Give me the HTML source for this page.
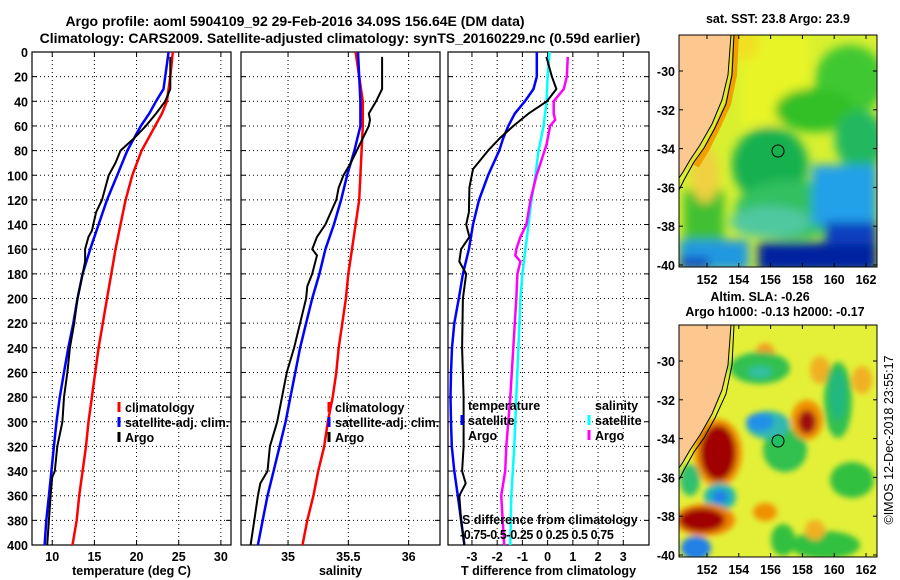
<!DOCTYPE html>
<html><head><meta charset="utf-8"><style>
body{margin:0;background:#fff}
svg{display:block;font-family:"Liberation Sans",Arial,sans-serif;font-weight:bold}
text{font-size:12.5px;fill:#000}
</style></head><body>
<svg id="fig" width="900" height="580" viewBox="0 0 900 580">
<defs>
<filter id="bl" x="-20%" y="-20%" width="140%" height="140%"><feGaussianBlur stdDeviation="5"/></filter>
<filter id="bl2" x="-20%" y="-20%" width="140%" height="140%"><feGaussianBlur stdDeviation="3"/></filter>
<clipPath id="cm1"><rect x="679" y="35" width="198" height="232"/></clipPath>
<clipPath id="cm2"><rect x="679" y="325" width="198" height="232"/></clipPath>
</defs>
<text x="295" y="26" text-anchor="middle" style="font-size:14px">Argo profile: aoml 5904109_92 29-Feb-2016 34.09S 156.64E (DM data)</text>
<text x="340" y="43" text-anchor="middle" style="font-size:14px">Climatology: CARS2009. Satellite-adjusted climatology: synTS_20160229.nc (0.59d earlier)</text>

<g id="maps">
<text x="778" y="23" text-anchor="middle">sat. SST: 23.8 Argo: 23.9</text>
<g clip-path="url(#cm1)">
<rect x="679" y="35" width="198" height="232" fill="#d8f030"/>
<g filter="url(#bl)">
<rect x="740" y="35" width="70" height="90" fill="#e8f428"/>
<ellipse cx="745" cy="45" rx="15" ry="15" fill="#f0e020"/>
<ellipse cx="850" cy="80" rx="35" ry="35" fill="#40c830"/>
<ellipse cx="815" cy="110" rx="40" ry="22" fill="#30c028"/>
<ellipse cx="860" cy="140" rx="25" ry="30" fill="#20b860"/>
<ellipse cx="770" cy="165" rx="38" ry="38" fill="#18b050"/>
<ellipse cx="790" cy="210" rx="55" ry="30" fill="#30c060"/>
<rect x="812" y="165" width="65" height="60" fill="#20a0e8"/>
<ellipse cx="770" cy="222" rx="40" ry="16" fill="#50c8a0"/>
<rect x="684" y="190" width="40" height="50" fill="#40c030"/>
<rect x="679" y="240" width="70" height="30" fill="#2098e0"/>
<rect x="758" y="242" width="119" height="30" fill="#0020a0"/>
<rect x="825" y="222" width="52" height="22" fill="#0840c0"/>
<ellipse cx="705" cy="175" rx="14" ry="28" fill="#f0d040"/>
<rect x="679" y="258" width="30" height="10" fill="#1030c0"/>
</g>
<polyline points="736,35 734,75 728,104 717,128 706,150 696,166" fill="none" stroke="#f0a000" stroke-width="6"/>
<polygon points="679,35 731,35 728,75 722,100 712,124 700,145 690,160 683,172 679,178" fill="#fcc890" stroke="#000" stroke-width="1"/>
<polyline points="734,35 732,75 726,104 715,128 704,148 694,162 684,180 679,190" fill="none" stroke="#000" stroke-width="1"/>
<circle cx="778" cy="151" r="6" fill="none" stroke="#000" stroke-width="1"/>
</g>
<rect x="679" y="35" width="198" height="232" fill="none" stroke="#000"/>

<text x="760" y="301" text-anchor="middle">Altim. SLA: -0.26</text>
<text x="775" y="316" text-anchor="middle">Argo h1000: -0.13 h2000: -0.17</text>
<g clip-path="url(#cm2)">
<rect x="679" y="325" width="198" height="232" fill="#e4f038"/>
<g filter="url(#bl2)">
<ellipse cx="765" cy="355" rx="10" ry="12" fill="#f0a020"/>
<ellipse cx="820" cy="370" rx="10" ry="14" fill="#f0b020"/>
<ellipse cx="862" cy="380" rx="10" ry="14" fill="#f0b020"/>
<ellipse cx="760" cy="368" rx="30" ry="16" fill="#30c050"/>
<ellipse cx="760" cy="372" rx="12" ry="6" fill="#30c0a0"/>
<ellipse cx="838" cy="400" rx="14" ry="38" fill="#30c050"/>
<ellipse cx="838" cy="395" rx="8" ry="25" fill="#20b880"/>
<ellipse cx="852" cy="480" rx="22" ry="18" fill="#30c040"/>
<ellipse cx="825" cy="545" rx="35" ry="14" fill="#30c040"/>
<ellipse cx="783" cy="540" rx="12" ry="16" fill="#30c040"/>
<ellipse cx="785" cy="450" rx="22" ry="22" fill="#30c050"/>
<ellipse cx="768" cy="425" rx="22" ry="14" fill="#30b8b0"/>
<ellipse cx="760" cy="422" rx="14" ry="9" fill="#2090e8"/>
<ellipse cx="718" cy="453" rx="24" ry="34" fill="#f09000"/>
<ellipse cx="718" cy="453" rx="18" ry="28" fill="#a00000"/>
<ellipse cx="720" cy="497" rx="16" ry="14" fill="#20b8b0"/>
<ellipse cx="720" cy="497" rx="8" ry="7" fill="#2080e8"/>
<ellipse cx="705" cy="520" rx="30" ry="16" fill="#f08000"/>
<ellipse cx="702" cy="520" rx="23" ry="12" fill="#a00000"/>
<ellipse cx="807" cy="420" rx="16" ry="20" fill="#f09000"/>
<ellipse cx="807" cy="422" rx="9" ry="12" fill="#a01010"/>
<ellipse cx="765" cy="512" rx="12" ry="9" fill="#f09000"/>
<ellipse cx="815" cy="530" rx="10" ry="10" fill="#f0b020"/>
<ellipse cx="696" cy="548" rx="15" ry="12" fill="#2080e8"/>
<ellipse cx="690" cy="480" rx="10" ry="16" fill="#30c070"/>
</g>
<polygon points="679,325 731,325 728,365 722,390 712,414 700,435 690,450 683,462 679,468" fill="#fcc890" stroke="#000" stroke-width="1"/>
<polyline points="734,325 732,365 726,394 715,418 704,438 694,452 684,470 679,480" fill="none" stroke="#000" stroke-width="1"/>
<circle cx="778" cy="441" r="6" fill="#20c060" stroke="#000" stroke-width="1"/>
</g>
<rect x="679" y="325" width="198" height="232" fill="none" stroke="#000"/>
<text transform="translate(893,440) rotate(-90)" text-anchor="middle" style="font-weight:normal">©IMOS 12-Dec-2018 23:55:17</text>
</g>
<g id="plots"></g>
</svg>
<script>
// Temperature panel data
const tClimDepth=[0,20,40,50,60,70,80,100,120,140,160,180,200,220,240,260,280,300,320,340,360,380,400];
const tClim=[24.3,24.0,23.6,23.0,22.2,21.4,20.6,19.5,18.7,18.1,17.5,17.0,16.5,16.0,15.5,15.1,14.7,14.3,14.0,13.6,13.2,12.9,12.4];
const tSatDepth=[0,20,30,40,50,60,70,80,100,120,140,160,180,200,220,240,260,280,300,320,340,360,380,400];
const tSat=[23.8,23.4,23.2,22.3,21.5,20.5,19.7,18.9,17.7,16.5,15.5,14.5,13.6,13.0,12.5,11.9,11.4,10.9,10.5,10.2,9.9,9.6,9.3,9.1];
const tArgoDepth=[4,30,40,50,60,70,80,90,100,120,130,145,150,160,170,180,200,220,240,260,280,300,320,340,345,360,380,400];
const tArgo=[24.0,24.0,23.4,22.3,21.1,19.7,18.1,17.5,16.7,15.9,15.2,14.7,14.3,13.9,13.9,13.6,13.0,12.6,12.1,11.8,11.4,11.2,10.6,10.3,10.0,9.8,9.6,9.4];
// Salinity panel data
const sClimDepth=[0,20,40,60,80,100,120,140,160,180,200,220,240,260,280,300,320,340,360,380,400];
const sClim=[35.56,35.59,35.62,35.62,35.61,35.6,35.59,35.56,35.53,35.5,35.48,35.45,35.42,35.4,35.37,35.33,35.3,35.25,35.21,35.16,35.12];
const sSatDepth=[0,20,40,60,80,100,120,140,160,180,200,220,240,260,280,300,320,340,360,380,400];
const sSat=[35.58,35.59,35.6,35.6,35.55,35.49,35.44,35.38,35.31,35.26,35.2,35.15,35.1,35.06,35.02,34.98,34.93,34.88,34.83,34.79,34.75];
const sArgoDepth=[4,30,40,50,55,60,70,80,90,100,110,120,140,150,160,165,180,190,200,220,240,260,280,300,320,340,350,360,380,400];
const sArgo=[35.78,35.78,35.73,35.67,35.68,35.67,35.62,35.57,35.52,35.46,35.42,35.4,35.31,35.24,35.2,35.24,35.2,35.16,35.15,35.1,35.05,34.99,34.95,34.91,34.85,34.83,34.77,34.75,34.72,34.69];
// Difference panel data (T in deg C, S in psu)
const dTSatDepth=[0,20,30,40,50,60,70,80,100,120,140,160,180,200,220,240,260,280,300,320,340,360,380,400];
const dTSat=[-0.43,-0.43,-0.56,-0.9,-1.3,-1.56,-1.76,-1.92,-2.36,-2.72,-2.96,-3.12,-3.36,-3.52,-3.7,-3.79,-3.83,-3.85,-3.83,-3.8,-3.7,-3.56,-3.43,-3.3];
const dTArgoDepth=[4,20,30,40,50,60,70,80,95,110,130,140,150,160,170,180,200,240,280,320,340,350,360,380,400];
const dTArgo=[-0.05,0.17,0.35,-0.03,-0.76,-1.36,-1.9,-2.36,-2.96,-3.1,-3.12,-3.23,-3.1,-3.43,-3.5,-3.23,-3.36,-3.39,-3.33,-3.33,-3.39,-3.25,-3.5,-3.43,-3.3];
const dSSatDepth=[0,20,40,60,80,100,120,140,160,180,200,240,280,320,360,400];
const dSSat=[0.02,0,-0.01,-0.04,-0.09,-0.12,-0.16,-0.19,-0.22,-0.25,-0.27,-0.29,-0.31,-0.33,-0.36,-0.37];
const dSArgoDepth=[4,20,30,40,50,55,60,75,90,100,120,140,150,160,165,170,180,200,240,280,320,340,360,400];
const dSArgo=[0.2,0.19,0.16,0.06,0.06,0.075,0.025,-0.01,-0.07,-0.11,-0.17,-0.21,-0.27,-0.31,-0.32,-0.27,-0.3,-0.31,-0.34,-0.37,-0.41,-0.42,-0.46,-0.43];
// Tick labels
const depthTicks=[0,20,40,60,80,100,120,140,160,180,200,220,240,260,280,300,320,340,360,380,400];
const tTicks=[10,15,20,25,30];
const sTicks=[35,35.5,36];
const dTicks=[-3,-2,-1,0,1,2,3];
const latTicks=[-30,-32,-34,-36,-38,-40];
const lonTicks=[152,154,156,158,160,162];
const sScale=4; // salinity diff drawn in T units (x4)

const NS='http://www.w3.org/2000/svg';
const root=document.getElementById('plots');
function mk(tag,attrs,parent){const e=document.createElementNS(NS,tag);for(const k in attrs)e.setAttribute(k,attrs[k]);(parent||root).appendChild(e);return e;}
const Y0=52,Y1=545;
function yD(d){return Y0+(d/400)*(Y1-Y0);}
function axis(x0,x1,v0,v1){return v=>x0+(v-v0)/(v1-v0)*(x1-x0);}
function panel(name,x0,x1,v0,v1,ticks,fmt,label,showDepth){
  const g=mk('g',{});
  
  
  const fx=axis(x0,x1,v0,v1);
  depthTicks.forEach(d=>{
    if(d>0&&d<400){const l=mk('line',{x1:x0,x2:x1,y1:yD(d),y2:yD(d),stroke:'#000','stroke-dasharray':'1,3','stroke-width':1},g);
    }
    mk('line',{x1:x0,x2:x0+5,y1:yD(d),y2:yD(d),stroke:'#000'},g);
    mk('line',{x1:x1-5,x2:x1,y1:yD(d),y2:yD(d),stroke:'#000'},g);
    if(showDepth){const t=mk('text',{x:x0-4,y:yD(d)+5,'text-anchor':'end'},g);t.textContent=d;
      }
  });
  ticks.forEach(v=>{
    const X=fx(v);
    const l=mk('line',{x1:X,x2:X,y1:Y0,y2:Y1,stroke:'#000','stroke-dasharray':'1,3'},g);
    
    mk('line',{x1:X,x2:X,y1:Y0,y2:Y0+5,stroke:'#000'},g);
    mk('line',{x1:X,x2:X,y1:Y1-5,y2:Y1,stroke:'#000'},g);
    const t=mk('text',{x:X,y:Y1+16,'text-anchor':'middle'},g);t.textContent=fmt(v);
    
  });
  const fr=mk('rect',{x:x0,y:Y0,width:x1-x0,height:Y1-Y0,fill:'none',stroke:'#000','stroke-width':1.2},g);
  
  const xl=mk('text',{x:(x0+x1)/2,y:575,'text-anchor':'middle'},g);xl.textContent=label;
  
  return {g,fx};
}
function series(p,depths,vals,color,w,name,scale){
  const pts=depths.map((d,i)=>p.fx(vals[i]*(scale||1)).toFixed(1)+','+yD(d).toFixed(1)).join(' ');
  const pl=mk('polyline',{points:pts,fill:'none',stroke:color,'stroke-width':w,'stroke-linejoin':'round'},p.g);
  
  
}
function legend(p,x,y,items){
  items.forEach((it,i)=>{
    if(it.c){const m=mk('line',{x1:x-6,x2:x-6,y1:y+i*15-10,y2:y+i*15,stroke:it.c,'stroke-width':3},p.g);
      }
    const t=mk('text',{x:x,y:y+i*15},p.g);t.textContent=it.t;
    
  });
}
const p1=panel('temperature-panel',32,231,7.6,31.2,tTicks,v=>v,'temperature (deg C)',true);
series(p1,tClimDepth,tClim,'#f00',2.5,'temp-climatology-line');
series(p1,tSatDepth,tSat,'#00f',2.5,'temp-satellite-line');
series(p1,tArgoDepth,tArgo,'#000',2,'temp-argo-line');
legend(p1,125,412,[{t:'climatology',c:'#f00'},{t:'satellite-adj. clim.',c:'#00f'},{t:'Argo',c:'#000'}]);

const p2=panel('salinity-panel',241,440,34.61,36.26,sTicks,v=>v,'salinity',false);
series(p2,sClimDepth,sClim,'#f00',2.5,'sal-climatology-line');
series(p2,sSatDepth,sSat,'#00f',2.5,'sal-satellite-line');
series(p2,sArgoDepth,sArgo,'#000',2,'sal-argo-line');
legend(p2,335,412,[{t:'climatology',c:'#f00'},{t:'satellite-adj. clim.',c:'#00f'},{t:'Argo',c:'#000'}]);

const p3=panel('difference-panel',448,649,-3.95,4.02,dTicks,v=>v,'T difference from climatology',false);
series(p3,dSSatDepth,dSSat,'#0ff',2.5,'sal-diff-satellite-line',sScale);
series(p3,dSArgoDepth,dSArgo,'#f0f',2.5,'sal-diff-argo-line',sScale);
series(p3,dTSatDepth,dTSat,'#00f',2.5,'temp-diff-satellite-line');
series(p3,dTArgoDepth,dTArgo,'#000',2,'temp-diff-argo-line');
legend(p3,468,410,[{t:'temperature'},{t:'satellite',c:'#00f'},{t:'Argo'}]);
legend(p3,595,410,[{t:'salinity'},{t:'satellite',c:'#0ff'},{t:'Argo',c:'#f0f'}]);
const sd=mk('text',{x:462,y:524},p3.g);sd.textContent='S difference from climatology';

const sn=mk('text',{x:460,y:539,style:'letter-spacing:-0.4px'},p3.g);sn.textContent='-0.75-0.5-0.25  0   0.25 0.5 0.75';


// map axes
const mg=document.getElementById('maps');
function mapAxes(top,bot,latTop,lat30,lat40,lonY){
  const fy=axis(lat30,lat40,-30,-40), fxm=axis(707,866,152,162);
  latTicks.forEach(v=>{
    const Y=fy(v);
    mk('line',{x1:679,x2:683,y1:Y,y2:Y,stroke:'#000'},mg);
    mk('line',{x1:873,x2:877,y1:Y,y2:Y,stroke:'#000'},mg);
    const t=mk('text',{x:675,y:Y+5,'text-anchor':'end'},mg);t.textContent=v;
    
  });
  lonTicks.forEach(v=>{
    const X=fxm(v);
    mk('line',{x1:X,x2:X,y1:top,y2:top+4,stroke:'#000'},mg);
    mk('line',{x1:X,x2:X,y1:bot-4,y2:bot,stroke:'#000'},mg);
    const t=mk('text',{x:X,y:lonY,'text-anchor':'middle'},mg);t.textContent=v;
    
  });
}
mapAxes(35,267,0,71,265,284);
mapAxes(325,557,0,361,555,574);
</script>
</body></html>
